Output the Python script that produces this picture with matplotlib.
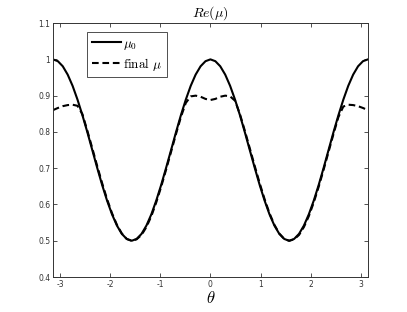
import matplotlib
matplotlib.use("Agg")
import matplotlib.pyplot as plt

plt.rcParams['mathtext.fontset'] = 'cm'
plt.rcParams['axes.unicode_minus'] = False

theta = [-3.142, -3.043, -2.945, -2.847, -2.749, -2.651, -2.553, -2.454, -2.356, -2.258,
         -2.160, -2.062, -1.963, -1.865, -1.767, -1.669, -1.571, -1.473, -1.374, -1.276,
         -1.178, -1.080, -0.982, -0.884, -0.785, -0.687, -0.589, -0.491, -0.393, -0.295,
         -0.196, -0.098, 0.000, 0.098, 0.196, 0.295, 0.393, 0.491, 0.589, 0.687,
         0.785, 0.884, 0.982, 1.080, 1.178, 1.276, 1.374, 1.473, 1.571, 1.669,
         1.767, 1.865, 1.963, 2.062, 2.160, 2.258, 2.356, 2.454, 2.553, 2.651,
         2.749, 2.847, 2.945, 3.043, 3.142]

mu0 = [1.000, 0.995, 0.981, 0.958, 0.927, 0.889, 0.846, 0.799, 0.750, 0.701,
       0.654, 0.611, 0.573, 0.542, 0.519, 0.505, 0.500, 0.505, 0.519, 0.542,
       0.573, 0.611, 0.654, 0.701, 0.750, 0.799, 0.846, 0.889, 0.927, 0.958,
       0.981, 0.995, 1.000, 0.995, 0.981, 0.958, 0.927, 0.889, 0.846, 0.799,
       0.750, 0.701, 0.654, 0.611, 0.573, 0.542, 0.519, 0.505, 0.500, 0.505,
       0.519, 0.542, 0.573, 0.611, 0.654, 0.701, 0.750, 0.799, 0.846, 0.889,
       0.927, 0.958, 0.981, 0.995, 1.000]

mu_final = [0.860, 0.866, 0.871, 0.874, 0.875, 0.872, 0.849, 0.803, 0.755, 0.706,
            0.659, 0.615, 0.576, 0.544, 0.520, 0.505, 0.500, 0.504, 0.516, 0.538,
            0.568, 0.606, 0.649, 0.696, 0.745, 0.794, 0.841, 0.880, 0.898, 0.900,
            0.897, 0.891, 0.888, 0.891, 0.897, 0.900, 0.898, 0.886, 0.849, 0.803,
            0.755, 0.706, 0.659, 0.615, 0.576, 0.544, 0.520, 0.505, 0.500, 0.504,
            0.516, 0.538, 0.568, 0.606, 0.649, 0.696, 0.745, 0.794, 0.841, 0.870,
            0.875, 0.874, 0.871, 0.866, 0.860]

xticks = [-3, -2, -1, 0, 1, 2, 3]
yticks = [0.4, 0.5, 0.6, 0.7, 0.8, 0.9, 1.0, 1.1]
yticklabels = ['0.4', '0.5', '0.6', '0.7', '0.8', '0.9', '1', '1.1']

fig = plt.figure(figsize=(4.07, 3.12), dpi=100)
ax = fig.add_axes([0.130, 0.112, 0.774, 0.814])

ax.plot(theta, mu0, color='black', lw=1.5, label=r'$\mu_0$')
ax.plot(theta, mu_final, color='black', lw=1.5, ls=(0, (3.2, 1.8)),
        label=r'$\mathrm{final}\ \mu$')

ax.set_xlim(-3.1416, 3.1416)
ax.set_ylim(0.4, 1.1)
ax.set_xticks(xticks)
ax.set_yticks(yticks)
ax.set_yticklabels(yticklabels)
ax.tick_params(direction='in', length=3, width=0.6, labelsize=5.5, colors='#333333',
               top=True, right=True, pad=2)
for s in ax.spines.values():
    s.set_color('#333333')
    s.set_linewidth(0.7)

ax.set_title(r'$Re(\mu)$', fontsize=10, pad=5)
ax.set_xlabel(r'$\theta$', fontsize=12, labelpad=0)

leg = ax.legend(loc='upper left', bbox_to_anchor=(0.108, 0.965), fontsize=9.5,
                frameon=True, fancybox=False, edgecolor='black', handlelength=2.2,
                handletextpad=0.2, borderpad=0.35, labelspacing=0.3, borderaxespad=0)
leg.get_frame().set_linewidth(0.6)

fig.savefig('out.png', dpi=100)
